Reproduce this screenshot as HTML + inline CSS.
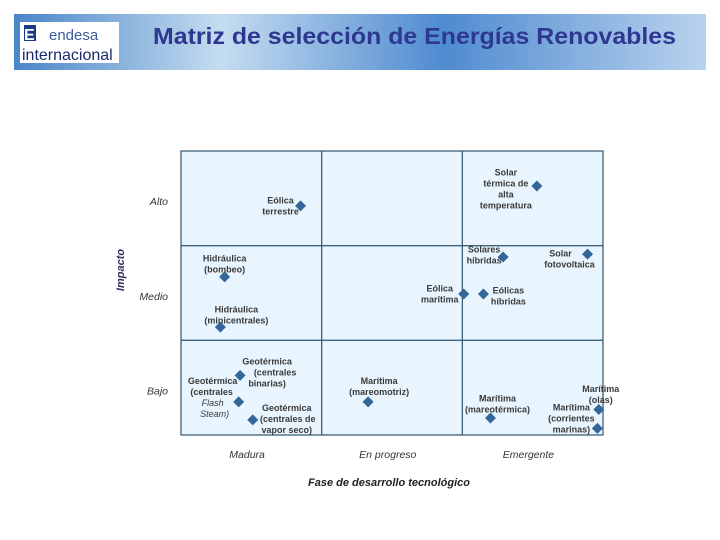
<!DOCTYPE html>
<html><head><meta charset="utf-8"><style>
body{margin:0;background:#fff;}
svg{display:block;font-family:"Liberation Sans",sans-serif;}
</style></head><body>
<svg width="720" height="540" viewBox="0 0 720 540" xmlns="http://www.w3.org/2000/svg">
<defs>
<linearGradient id="hb" x1="0" x2="1" y1="0" y2="0">
<stop offset="0" stop-color="#4a86c8"/><stop offset="0.3" stop-color="#c5dcf0"/><stop offset="0.62" stop-color="#4f8bd0"/><stop offset="1" stop-color="#b9d3ee"/>
</linearGradient>
</defs>
<rect x="14" y="14" width="692" height="56" fill="url(#hb)"/>
<g>
<rect x="20" y="22" width="99" height="41" fill="#fff"/>
<rect x="24" y="25" width="12" height="16" fill="#1a3a8a"/>
<text x="24" y="40" font-size="16" fill="#fff" font-weight="bold">E</text>
<text x="49" y="40" font-size="15" fill="#3b5b9a">endesa</text>
<text x="22" y="60" font-size="16" fill="#1a2a6a">internacional</text>
</g>
<text x="153" y="44" font-size="23" font-weight="bold" fill="#2e3890" textLength="523" lengthAdjust="spacingAndGlyphs">Matriz de selección de Energías Renovables</text>
<g id="plot"></g>
<text transform="translate(124,270) rotate(-90)" text-anchor="middle" font-size="11" font-weight="bold" font-style="italic" fill="#2e3060">Impacto</text>
<text x="389" y="486" text-anchor="middle" font-size="11" font-weight="bold" font-style="italic" fill="#222">Fase de desarrollo tecnológico</text>
</svg>
<script>
const xCategories=["Madura","En progreso","Emergente"];
const yCategories=["Bajo","Medio","Alto"];
const techNames=["Eólica terrestre","Solar térmica de alta temperatura","Hidráulica (bombeo)","Solares híbridas","Solar fotovoltaica","Eólica marítima","Eólicas híbridas","Hidráulica (minicentrales)","Geotérmica (centrales binarias)","Geotérmica (centrales Flash Steam)","Geotérmica (centrales de vapor seco)","Marítima (mareomotriz)","Marítima (mareotérmica)","Marítima (olas)","Marítima (corrientes marinas)"];
const maturity=[0.85,2.53,0.31,2.29,2.89,2.01,2.15,0.28,0.42,0.41,0.51,1.33,2.2,2.97,2.96];
const impact=[2.42,2.63,1.67,1.88,1.91,1.49,1.49,1.14,0.63,0.35,0.16,0.35,0.18,0.27,0.07];
const labelLines=[["Eólica","terrestre"],["Solar","térmica de","alta","temperatura"],["Hidráulica","(bombeo)"],["Solares","híbridas"],["Solar","fotovoltaica"],["Eólica","marítima"],["Eólicas","híbridas"],["Hidráulica","(minicentrales)"],["Geotérmica","(centrales","binarias)"],["Geotérmica","(centrales","Flash","Steam)"],["Geotérmica","(centrales de","vapor seco)"],["Marítima","(mareomotriz)"],["Marítima","(mareotérmica)"],["Marítima","(olas)"],["Marítima","(corrientes","marinas)"]];
// label layout offsets relative to the point (dx of line center, dy of first line)
const labelDx=[[-20,-20],[-31,-31,-31,-31],[0,0],[-19,-19],[-27,-18],[-24,-24],[25,25],[16,16],[27,35,27],[-26,-27,-26,-24],[34,35,34],[11,11],[7,7],[2,2],[-26,-26,-26]];
const labelDy=[-5,-13,-18,-7,0,-5,-3,-17,-13,-20,-11,-20,-19,-20,-20];
const X0=181,X1=603,Y0=435,Y1=151;
const xs=v=>X0+v*(X1-X0)/3;
const ys=v=>Y0-v*(Y0-Y1)/3;
const NS="http://www.w3.org/2000/svg";
const g=document.getElementById('plot');
function mk(t,a){const e=document.createElementNS(NS,t);for(const k in a)e.setAttribute(k,a[k]);g.appendChild(e);return e;}
const bg=mk('rect',{x:X0,y:Y1,width:X1-X0,height:Y0-Y1,fill:'#e8f5fe',stroke:'#3d6078','stroke-width':1.3});


for(let i=1;i<3;i++){
 const v=mk('line',{x1:xs(i),x2:xs(i),y1:Y1,y2:Y0,stroke:'#3d6078','stroke-width':1.3});
 
 
 const h=mk('line',{x1:X0,x2:X1,y1:ys(i),y2:ys(i),stroke:'#3d6078','stroke-width':1.3});
 
 
}
xCategories.forEach((c,i)=>{
 const t=mk('text',{x:xs(i+0.47),y:458,'text-anchor':'middle','font-size':10.5,'font-style':'italic',fill:'#333'});
 t.textContent=c;
 
 
});
yCategories.forEach((c,i)=>{
 const t=mk('text',{x:168,y:ys(i+0.48)+5,'text-anchor':'end','font-size':10.5,'font-style':'italic',fill:'#333'});
 t.textContent=c;
 
 
});
techNames.forEach((n,i)=>{
 const px=xs(maturity[i]),py=ys(impact[i]);
 const d=mk('path',{d:`M${px} ${py-5.5}L${px+5.5} ${py}L${px} ${py+5.5}L${px-5.5} ${py}Z`,fill:'#336699'});
 
 
 labelLines[i].forEach((ln,j)=>{
  const t=mk('text',{x:px+labelDx[i][j],y:py+labelDy[i]+j*11,'text-anchor':'middle','font-size':9,'font-weight':'bold',fill:'#3a3a3a','dominant-baseline':'middle'});
  if(ln==='Flash'||ln==='Steam)'){t.setAttribute('font-style','italic');t.setAttribute('font-weight','normal');}
  t.textContent=ln;
  
  
 });
});
</script>
</body></html>
